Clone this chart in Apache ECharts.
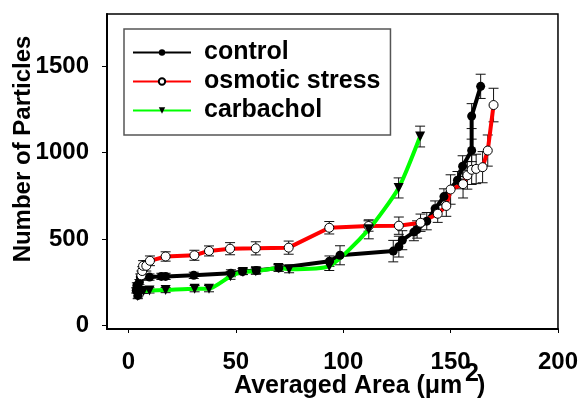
<!DOCTYPE html>
<html>
<head>
<meta charset="utf-8">
<script src="https://cdn.jsdelivr.net/npm/echarts@6/dist/echarts.min.js"></script>
<style>
  html, body { margin: 0; padding: 0; background: #fff; }
  #chart { width: 581px; height: 401px; }
</style>
</head>
<body>
<div id="chart"></div>
<script>
// Particle counts vs. averaged area, mean ± error per point
const controlX = [4.4, 3.6, 3.9, 5.1, 5.5, 9.8, 15.3, 17.3, 30.4, 47.7, 53.1, 59.5, 70, 93.6, 98.5, 123.3, 125.9, 127.5, 132.9, 134.4, 138.9, 142.8, 146.9, 153.2, 155.6, 159.8, 159.8, 164];
const controlY = [174, 203, 232, 251, 280, 280, 284, 284, 290, 302, 312, 318, 333, 372, 406, 430, 456, 493, 540, 555, 603, 675, 745, 840, 921, 1012, 1210, 1382];
const controlErr = [15, 15, 15, 15, 18, 18, 18, 18, 18, 20, 18, 18, 20, 30, 55, 62, 60, 55, 50, 50, 50, 45, 45, 50, 60, 65, 72, 70];

const osmoticX = [6, 6.4, 6.8, 8.3, 10, 17.3, 30.7, 37.5, 47.3, 59.3, 74.6, 93.5, 111.8, 125.9, 136, 144, 148, 150, 155.8, 157.8, 159.8, 161.9, 164.9, 167.3, 170];
const osmoticY = [290, 315, 345, 345, 374, 399, 406, 431, 444, 446, 450, 565, 575, 577, 594, 646, 691, 786, 817, 868, 900, 905, 915, 1011, 1274];
const osmoticErr = [25, 25, 30, 30, 28, 27, 29, 29, 35, 38, 38, 36, 30, 50, 50, 50, 60, 85, 80, 80, 85, 85, 90, 90, 97];

const carbacholX = [4.3, 4.6, 5, 7, 9.8, 17.3, 30.8, 37.5, 47.5, 53.3, 59.3, 69.8, 74.8, 93.5, 111.9, 125.8, 135.8];
const carbacholY = [170, 185, 200, 200, 203, 205, 213, 213, 285, 310, 314, 333, 325, 343, 556, 795, 1092];
const carbacholErr = [15, 15, 15, 15, 15, 15, 18, 18, 18, 15, 18, 18, 20, 25, 55, 58, 60];

const seriesNames = ['control', 'osmotic stress', 'carbachol'];
const xTicks = [0, 50, 100, 150, 200];
const yTicks = [0, 500, 1000, 1500];

const FONT = '"Liberation Sans", Arial, sans-serif';

function pairs(xs, ys) {
  return xs.map((x, i) => [x, ys[i]]);
}

// vertical error bar with short caps at both ends
function errorBars(xs, ys, errs) {
  return {
    type: 'custom',
    silent: true,
    data: xs.map((x, i) => [x, ys[i] - errs[i], ys[i] + errs[i]]),
    encode: { x: 0, y: [1, 2] },
    renderItem: function (params, api) {
      const lo = api.coord([api.value(0), api.value(1)]);
      const hi = api.coord([api.value(0), api.value(2)]);
      const w = 5;
      const st = { stroke: '#111', lineWidth: 1 };
      return {
        type: 'group',
        children: [
          { type: 'line', shape: { x1: lo[0], y1: lo[1], x2: hi[0], y2: hi[1] }, style: st },
          { type: 'line', shape: { x1: lo[0] - w, y1: lo[1], x2: lo[0] + w, y2: lo[1] }, style: st },
          { type: 'line', shape: { x1: hi[0] - w, y1: hi[1], x2: hi[0] + w, y2: hi[1] }, style: st }
        ]
      };
    }
  };
}

const chart = echarts.init(document.getElementById('chart'));

chart.setOption({
  animation: false,
  backgroundColor: '#fff',
  grid: {
    left: 107, top: 14, right: 23, bottom: 72,
    show: true, borderColor: '#000', borderWidth: 1.5
  },
  xAxis: {
    type: 'value', min: -10, max: 200,
    axisLine: { show: true, onZero: false, lineStyle: { color: '#000', width: 2 } },
    axisTick: { show: true, customValues: xTicks, length: 4, lineStyle: { color: '#000', width: 1 } },
    axisLabel: { customValues: xTicks, margin: 21, color: '#000', fontFamily: FONT, fontWeight: 'bold', fontSize: 24,
      formatter: v => String(v) },
    splitLine: { show: false }
  },
  yAxis: {
    type: 'value', min: -20, max: 1800,
    axisLine: { show: true, onZero: false, lineStyle: { color: '#000', width: 2 } },
    axisTick: { show: true, customValues: yTicks, length: 5, lineStyle: { color: '#000', width: 1 } },
    axisLabel: { customValues: yTicks, margin: 18, color: '#000', fontFamily: FONT, fontWeight: 'bold', fontSize: 24,
      formatter: v => String(v) },
    splitLine: { show: false }
  },
  legend: {
    data: seriesNames,
    orient: 'vertical',
    left: 124, top: 29,
    padding: [11, 10, 12, 8],
    itemGap: 4,
    itemWidth: 58,
    itemHeight: 8,
    borderColor: '#555',
    borderWidth: 1.5,
    selectedMode: false,
    textStyle: { color: '#000', fontFamily: FONT, fontWeight: 'bold', fontSize: 25, lineHeight: 24, padding: [0, 0, 0, 8] }
  },
  graphic: [
    {
      type: 'text', x: 23, y: 149, rotation: Math.PI / 2,
      style: { text: 'Number of Particles', font: 'bold 24px ' + FONT, fill: '#000', textAlign: 'center', textVerticalAlign: 'middle' }
    },
    {
      type: 'text', x: 234, y: 386.5,
      style: { text: 'Averaged Area (μm', font: 'bold 25px ' + FONT, fill: '#000', textAlign: 'left', textVerticalAlign: 'middle' }
    },
    {
      type: 'text', x: 465, y: 374,
      style: { text: '2', font: 'bold 25px ' + FONT, fill: '#000', textAlign: 'left', textVerticalAlign: 'middle' }
    },
    {
      type: 'text', x: 477, y: 386.5,
      style: { text: ')', font: 'bold 25px ' + FONT, fill: '#000', textAlign: 'left', textVerticalAlign: 'middle' }
    }
  ],
  series: [
    errorBars(controlX, controlY, controlErr),
    {
      name: 'control', type: 'line', data: pairs(controlX, controlY),
      symbol: 'circle', symbolSize: 9, showAllSymbol: true,
      itemStyle: { color: '#000' },
      lineStyle: { color: '#000', width: 4 }
    },
    errorBars(osmoticX, osmoticY, osmoticErr),
    {
      name: 'osmotic stress', type: 'line', data: pairs(osmoticX, osmoticY),
      symbol: 'circle', symbolSize: 9, showAllSymbol: true,
      itemStyle: { color: '#fff', borderColor: '#000', borderWidth: 1 },
      lineStyle: { color: '#ff0000', width: 4 }
    },
    errorBars(carbacholX, carbacholY, carbacholErr),
    {
      name: 'carbachol', type: 'line', data: pairs(carbacholX, carbacholY),
      symbol: 'triangle', symbolRotate: 180, symbolSize: 10, showAllSymbol: true,
      smooth: 0.2,
      itemStyle: { color: '#000' },
      lineStyle: { color: '#00ff00', width: 4 }
    }
  ]
});
</script>
</body>
</html>
